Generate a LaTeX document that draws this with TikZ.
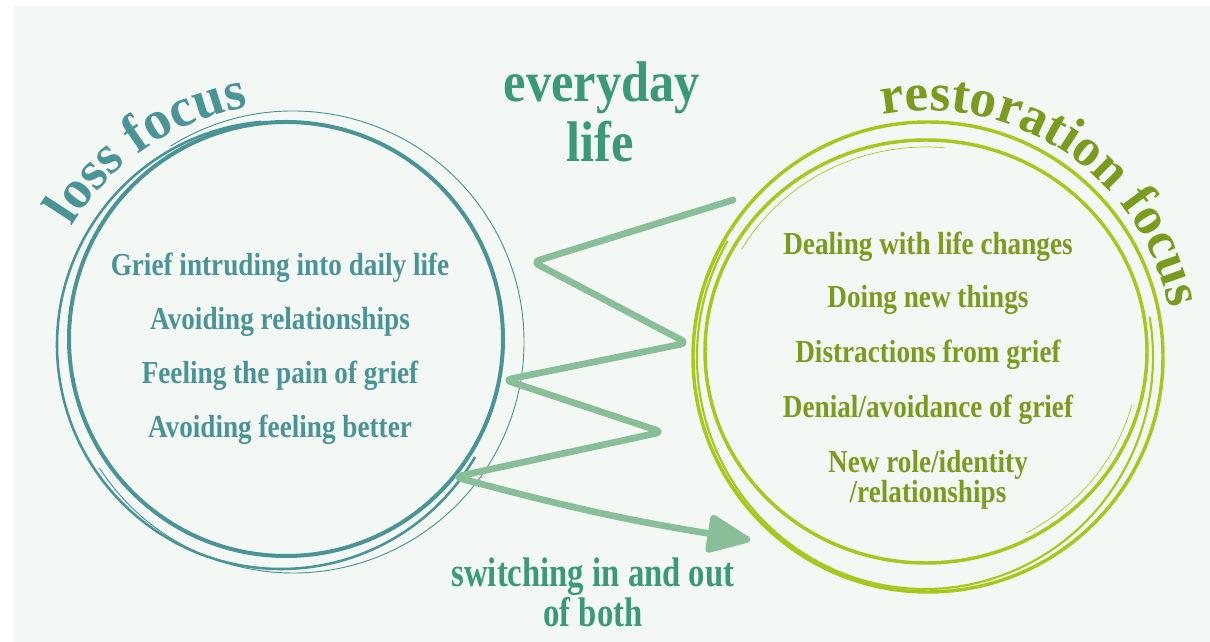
\documentclass[tikz,border=0pt]{standalone}
\usepackage{fontspec}
\setmainfont{Liberation Serif}
\usetikzlibrary{decorations.text,arrows.meta}
\definecolor{losscol}{HTML}{4A9396}
\definecolor{lifecol}{HTML}{3B9978}
\definecolor{restcol}{HTML}{7A9C1E}
\definecolor{ringcol}{HTML}{A7C71C}
\definecolor{zigcol}{HTML}{88BF98}
\definecolor{paper}{HTML}{F3F8F4}
\begin{document}
\begin{tikzpicture}[x=0.75pt,y=0.75pt,
    item/.style={font=\bfseries\fontsize{24}{28}\selectfont, xscale=.85, anchor=base, inner sep=0pt},
    heading/.style={font=\bfseries\fontsize{43}{50}\selectfont, xscale=.88, anchor=base, inner sep=0pt, text=lifecol},
    zig/.style={draw=zigcol, line width=5pt, line cap=round, line join=round, rounded corners=5pt,
      -{Triangle[length=36pt,width=30pt,round]}}]
  \useasboundingbox (0,0) rectangle (1210,642);
  \fill[paper] (14,0) rectangle (1210,636);
  % loss circle
  \begin{scope}[draw=losscol]
    \draw[line width=3pt] (286,303) circle[radius=217];
    \draw[line width=1.9pt] (281,297) ++(95:224) arc[start angle=95, end angle=330, radius=224];
    \draw[line width=0.7pt] (293,300) ++(122:231) arc[start angle=122, end angle=-147, radius=231];
  \end{scope}
  % restoration circle
  \begin{scope}[draw=ringcol]
    \draw[line width=2.6pt] (928,285) circle[radius=235];
    \draw[line width=2.6pt] (926,290.5) ellipse[x radius=221, y radius=211.5];
    \draw[line width=1.6pt] (925,285) ++(150:228 and 232) arc[start angle=150, end angle=370, x radius=228, y radius=232];
    \draw[line width=0.5pt] (926,290) ++(150:213 and 205) arc[start angle=150, end angle=85, x radius=213, y radius=205];
    \draw[line width=0.5pt] (926,290) ++(-15:213 and 205) arc[start angle=-15, end angle=-62, x radius=213, y radius=205];
  \end{scope}
  % curved headings
  \path[decorate, decoration={text along path, text color=losscol, text align=center,
      text={|\bfseries\fontsize{41}{48}\selectfont|loss focus}}]
    (290,282) ++(160:256) arc[start angle=160, end angle=88, radius=256];
  \path[decorate, decoration={text along path, text color=restcol, text align=center,
      text={|\bfseries\fontsize{40}{48}\selectfont|restoration focus}}]
    (928,285) ++(123:246) arc[start angle=123, end angle=-11, radius=246];
  % headings
  \node[heading] (every) at (602,540) {everyday};
  \node[heading] (life) at (600,480) {life};
  \node[heading, font=\bfseries\fontsize{31}{36}\selectfont, xscale=.9] (switch) at (593,55) {switching in and out};
  \node[heading, font=\bfseries\fontsize{31}{36}\selectfont, xscale=.9] (both) at (593,15) {of both};
  % loss items
  \node[item, text=losscol] (grief) at (280,366) {Grief intruding into daily life};
  \node[item, text=losscol] (avoidrel) at (280,312) {Avoiding relationships};
  \node[item, text=losscol] (pain) at (280,258) {Feeling the pain of grief};
  \node[item, text=losscol] (avoidbetter) at (280,204) {Avoiding feeling better};
  % restoration items
  \node[item, text=restcol] (dealing) at (928,387) {Dealing with life changes};
  \node[item, text=restcol] (doing) at (928,334) {Doing new things};
  \node[item, text=restcol] (distract) at (928,279) {Distractions from grief};
  \node[item, text=restcol] (denial) at (928,224) {Denial/avoidance of grief};
  \node[item, text=restcol] (newrole) at (928,169) {New role/identity};
  \node[item, text=restcol] (newrel) at (928,139) {/relationships};
  % switching
  \coordinate (z0) at (733,442);
  \coordinate (z1) at (533,380);
  \coordinate (z2) at (687,299);
  \coordinate (z3) at (505,262);
  \coordinate (z4) at (662,210);
  \coordinate (z5) at (455,165);
  \coordinate (z6) at (750,102);
  \draw[zig] (z0) -- (z1) -- (z2) -- (z3) -- (z4) -- (z5) to[bend right=3] (z6);
\end{tikzpicture}
\end{document}
